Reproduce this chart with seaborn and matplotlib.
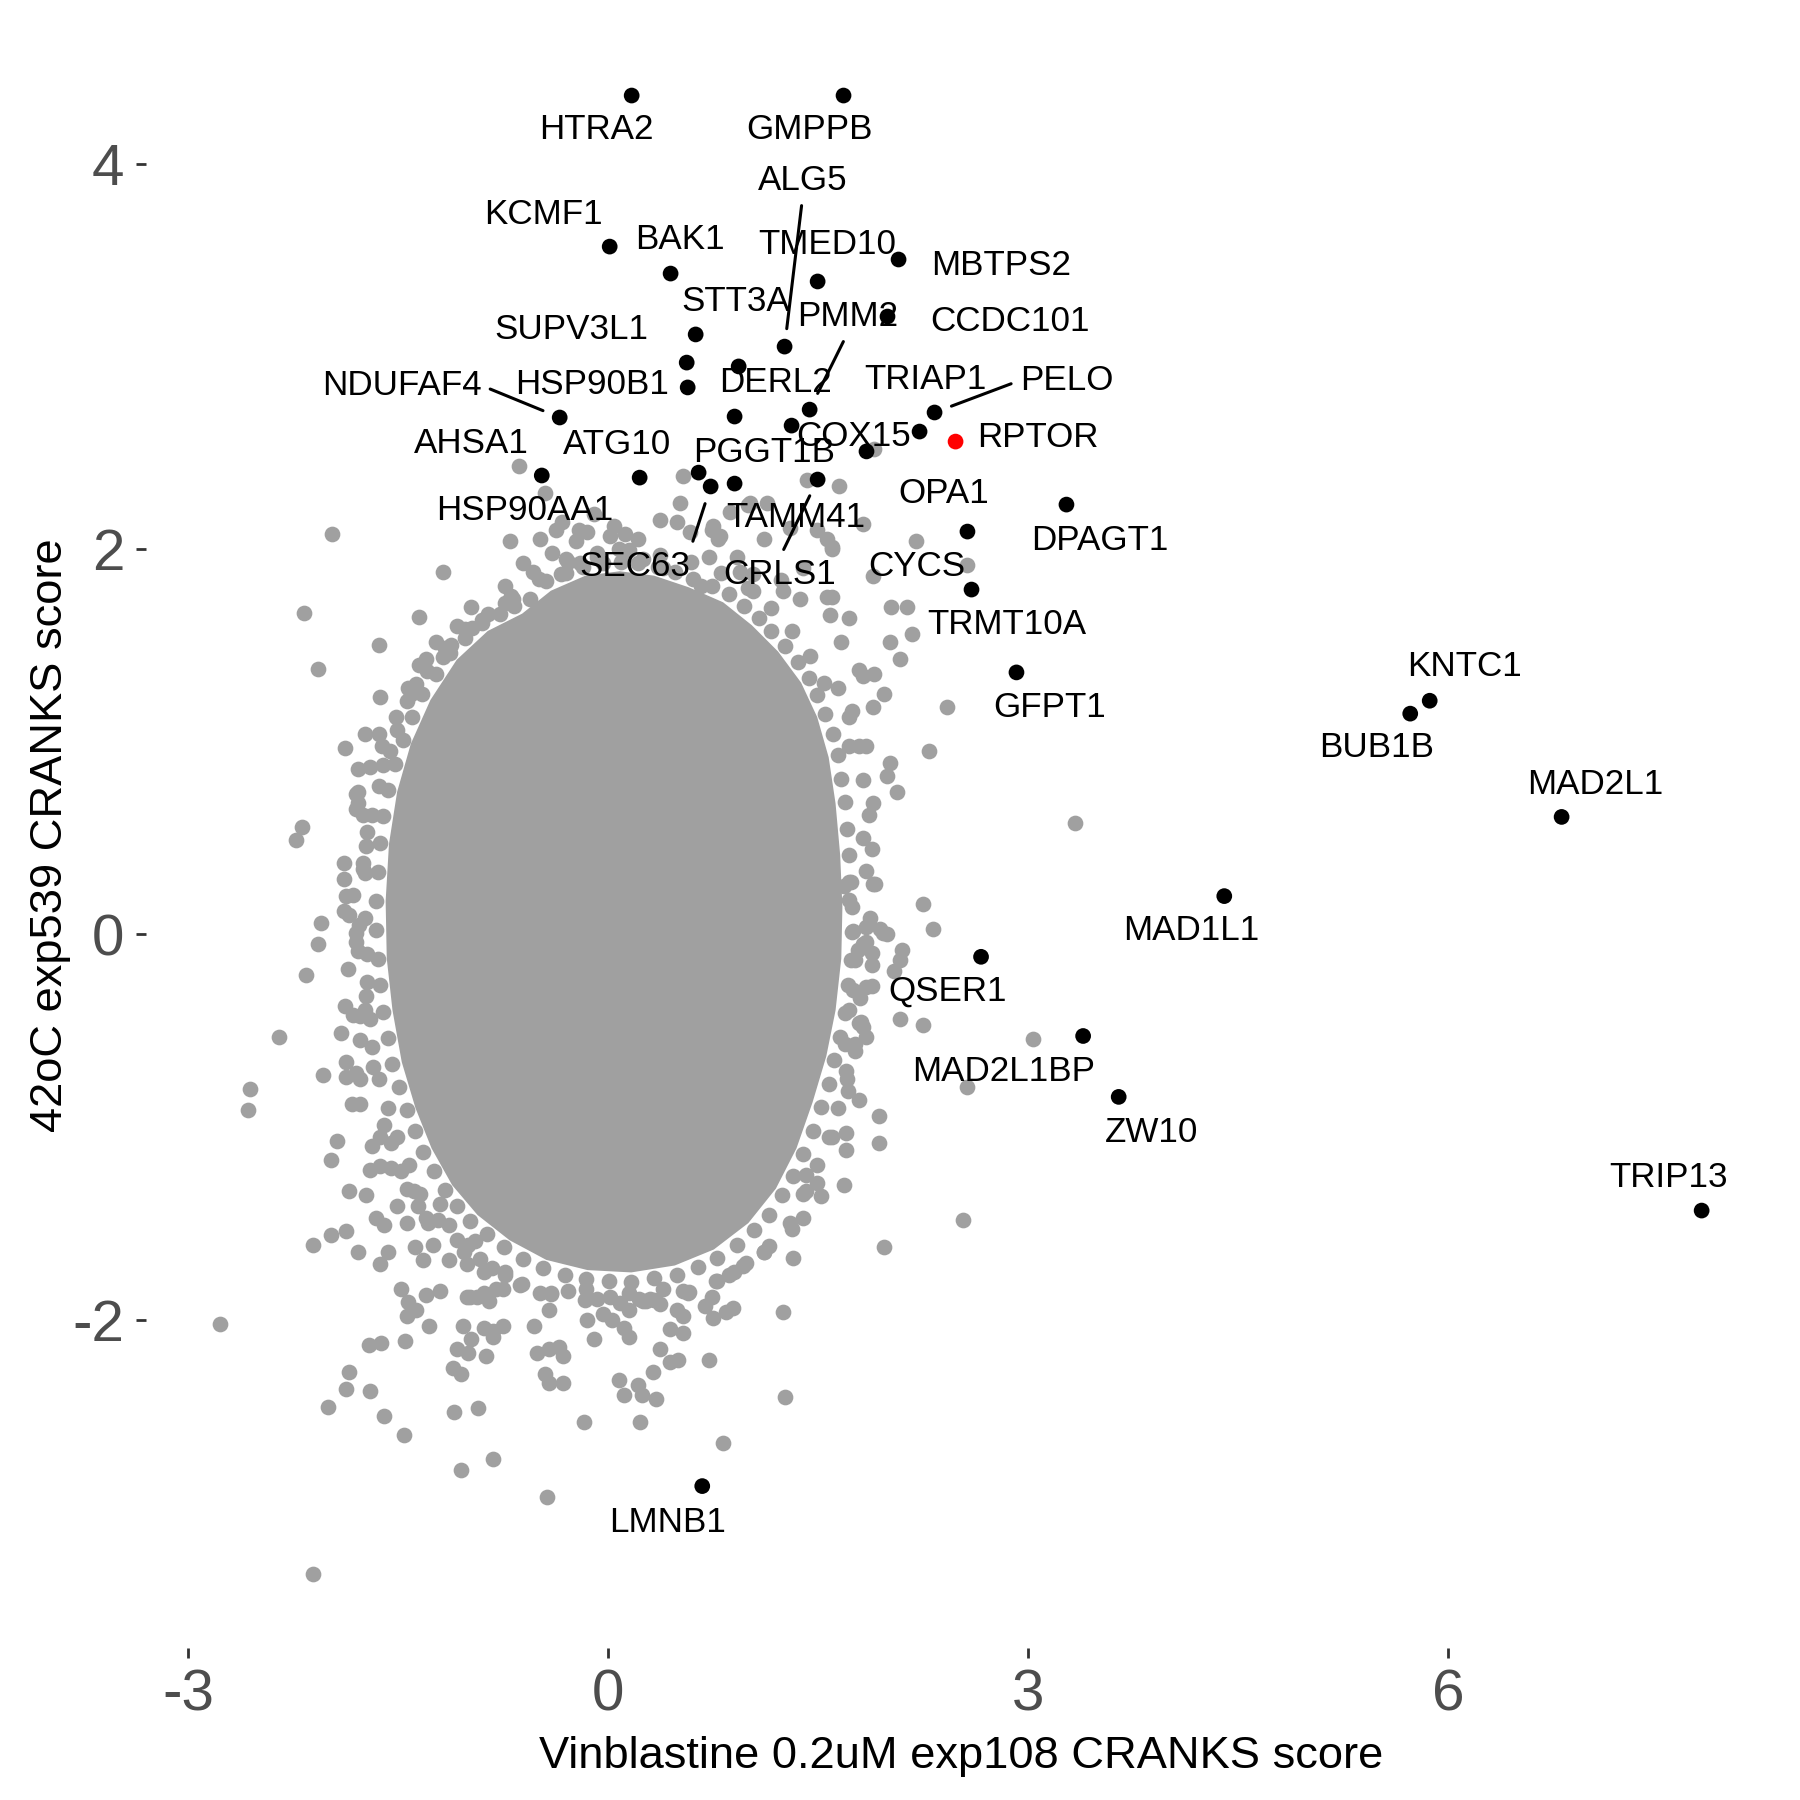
import matplotlib
matplotlib.use("Agg")
import matplotlib.pyplot as plt
import seaborn as sns
import pandas as pd

# ---------------------------------------------------------------- data
# labelled hits (CRANKS scores)
genes = ["HTRA2", "GMPPB", "KCMF1", "BAK1", "TMED10", "MBTPS2", "CCDC101",
         "STT3A", "ALG5", "SUPV3L1", "DERL2", "HSP90B1", "NDUFAF4", "PMM2",
         "HSP90AA1", "CYCS", "PELO", "TRIAP1", "COX15", "AHSA1", "ATG10",
         "PGGT1B", "SEC63", "TAMM41", "CRLS1", "RPTOR", "OPA1", "DPAGT1",
         "TRMT10A", "GFPT1", "KNTC1", "BUB1B", "MAD2L1", "MAD1L1", "QSER1",
         "MAD2L1BP", "ZW10", "TRIP13", "LMNB1"]
gene_x = [0.167, 1.680, 0.010, 0.445, 1.495, 2.073, 1.994,
          0.624, 1.259, 0.560, 0.931, 0.567, -0.347, 1.438,
          0.902, 1.309, 2.330, 2.223, 1.844, -0.475, 0.224,
          0.645, 0.731, 0.902, 1.495, 2.480, 2.565, 3.272,
          2.594, 2.915, 5.866, 5.727, 6.808, 4.399, 2.662,
          3.391, 3.645, 7.808, 0.671]
gene_y = [4.354, 4.354, 3.570, 3.430, 3.389, 3.503, 3.207,
          3.114, 3.051, 2.968, 2.948, 2.839, 2.683, 2.724,
          2.688, 2.641, 2.709, 2.610, 2.507, 2.382, 2.371,
          2.397, 2.325, 2.340, 2.361, 2.558, 2.091, 2.231,
          1.790, 1.360, 1.213, 1.146, 0.610, 0.199, -0.116,
          -0.527, -0.843, -1.433, -2.863]
highlight = ["RPTOR"]

# all other genes: outline of the solid centre of the cloud ...
core_x = [-0.615, -0.410, -0.164, 0.082, 0.328, 0.574, 0.820, 1.025, 1.213, 1.377,
          1.492, 1.574, 1.623, 1.656, 1.672, 1.664, 1.623, 1.557, 1.459, 1.344,
          1.197, 1.000, 0.754, 0.475, 0.164, -0.148, -0.443, -0.705, -0.934, -1.115,
          -1.262, -1.377, -1.475, -1.541, -1.582, -1.590, -1.566, -1.508, -1.410, -1.270,
          -1.082, -0.861]
core_y = [1.665, 1.784, 1.862, 1.885, 1.862, 1.802, 1.724, 1.605, 1.468, 1.307,
          1.128, 0.919, 0.680, 0.412, 0.143, -0.125, -0.394, -0.632, -0.871, -1.110,
          -1.319, -1.498, -1.635, -1.718, -1.754, -1.742, -1.689, -1.587, -1.456, -1.301,
          -1.110, -0.901, -0.662, -0.394, -0.125, 0.173, 0.471, 0.740, 0.990, 1.217,
          1.426, 1.575]

# ... genes crowding the edge of that centre ...
edge_genes = [(-0.672, 1.706), (-0.443, 1.832), (-0.180, 1.909), (0.090, 1.933), (0.352, 1.909),
              (0.607, 1.844), (0.861, 1.766), (1.074, 1.641), (1.262, 1.498), (1.434, 1.331),
              (1.549, 1.146), (1.639, 0.931), (1.689, 0.686), (1.721, 0.412), (1.738, 0.143),
              (1.730, -0.131), (1.689, -0.406), (1.615, -0.650), (1.516, -0.895), (1.393, -1.140),
              (1.238, -1.354), (1.041, -1.533), (0.779, -1.677), (0.492, -1.766), (0.164, -1.802),
              (-0.156, -1.790), (-0.467, -1.730), (-0.746, -1.623), (-0.984, -1.486), (-1.164, -1.325),
              (-1.320, -1.128), (-1.434, -0.913), (-1.541, -0.674), (-1.607, -0.400), (-1.648, -0.125),
              (-1.656, 0.173), (-1.631, 0.477), (-1.574, 0.752), (-1.467, 1.008), (-1.328, 1.247),
              (-1.131, 1.462), (-0.902, 1.617),
              (-0.557, 1.742), (-0.303, 1.874), (-0.041, 1.927), (0.213, 1.927), (0.475, 1.879),
              (0.738, 1.808), (0.967, 1.706), (1.164, 1.575), (1.352, 1.414), (1.492, 1.241),
              (1.607, 1.038), (1.664, 0.806), (1.705, 0.549), (1.730, 0.274), (1.738, 0.012),
              (1.713, -0.263), (1.656, -0.531), (1.574, -0.776), (1.459, -1.020), (1.320, -1.253),
              (1.148, -1.456), (0.918, -1.611), (0.639, -1.724), (0.328, -1.784), (0.008, -1.796),
              (-0.311, -1.766), (-0.607, -1.683), (-0.869, -1.557), (-1.082, -1.408), (-1.246, -1.229),
              (-1.377, -1.020), (-1.492, -0.794), (-1.574, -0.537), (-1.631, -0.263), (-1.656, 0.024),
              (-1.648, 0.322), (-1.607, 0.615), (-1.525, 0.883), (-1.402, 1.128), (-1.230, 1.354),
              (-1.025, 1.539), (-0.770, 1.665)]
outer_edge_genes = [(-1.738, 1.038), (-1.705, 0.871), (-1.787, 0.680), (-1.721, 0.531), (-1.754, 0.370),
                    (-1.820, 0.203), (-1.738, 0.084), (-1.787, -0.084), (-1.721, -0.245), (-1.770, -0.424),
                    (-1.689, -0.585), (-1.639, -0.752), (-1.574, -0.901), (-1.508, -1.050), (-1.426, -1.199),
                    (-1.344, -1.348), (-1.213, -1.480), (-1.082, -1.587), (-0.918, -1.683), (-0.738, -1.766),
                    (1.639, 1.277), (1.721, 1.128), (1.787, 0.979), (1.820, 0.800), (1.861, 0.621),
                    (1.885, 0.442), (1.902, 0.263), (1.869, 0.084), (1.885, -0.095), (1.844, -0.274),
                    (1.803, -0.453), (1.762, -0.603), (1.705, -0.752), (1.639, -0.901), (1.574, -1.050),
                    (1.492, -1.199), (1.393, -1.348), (1.295, -1.498), (1.148, -1.617), (0.984, -1.706),
                    (0.779, -1.796), (0.574, -1.856), (0.328, -1.897), (0.082, -1.915), (-0.164, -1.897),
                    (-0.410, -1.868), (-0.615, -1.814), (-0.861, 1.665), (-0.697, 1.754), (-0.492, 1.844),
                    (-0.287, 1.933), (-0.082, 1.981), (0.148, 1.993), (0.369, 1.969), (0.590, 1.933),
                    (0.803, 1.874), (1.000, 1.796), (1.164, 1.695), (1.311, 1.575), (1.443, 1.444),
                    (1.541, 1.307), (-1.025, 1.587), (-1.164, 1.486), (-1.295, 1.366), (-1.410, 1.247),
                    (-1.516, 1.128), (-1.615, 0.979)]

# ... and the scattered genes further out
top_genes = [(-0.64, 2.43), (-0.45, 2.29), (-1.97, 2.08), (-0.70, 2.04), (-1.18, 1.88),
             (-1.35, 1.65), (-2.17, 1.67), (-0.97, 1.59), (-0.37, 2.10), (-0.23, 2.04),
             (-0.15, 2.09), (0.01, 2.07), (0.12, 2.08), (0.37, 2.15), (0.51, 2.24),
             (0.53, 2.38), (0.58, 2.09), (0.75, 2.12), (0.78, 2.05), (-0.61, 1.93),
             (-0.54, 1.88), (-0.40, 1.98), (-0.30, 1.95), (-0.68, 1.74), (1.42, 2.36),
             (1.65, 2.33), (1.90, 2.52), (1.82, 2.13), (1.56, 2.05), (1.60, 2.00),
             (2.20, 2.04), (2.56, 1.92), (1.89, 1.86), (1.56, 1.75), (1.58, 1.66),
             (2.02, 1.70), (2.13, 1.70), (2.17, 1.56), (1.01, 2.24), (1.13, 2.24),
             (0.87, 2.19), (0.80, 2.07), (0.72, 1.96), (0.92, 1.96), (0.94, 1.88),
             (1.03, 1.78), (1.25, 1.78), (1.37, 1.74), (-0.90, 1.63), (-0.74, 1.72),
             (-0.34, 1.87), (-0.20, 1.93), (-0.08, 1.96), (0.08, 2.00), (0.25, 1.95),
             (0.39, 1.90), (0.66, 1.81), (-0.49, 2.05), (-0.33, 2.14), (-0.21, 2.10),
             (-0.10, 2.18), (0.04, 2.12), (0.21, 2.05), (0.49, 2.14), (0.74, 2.10),
             (1.00, 2.23), (1.11, 2.05), (1.30, 2.11), (1.49, 2.10), (1.60, 2.01),
             (1.39, 1.90), (1.23, 1.84), (1.03, 1.87), (1.60, 1.75), (1.72, 1.64),
             (1.66, 1.52), (1.79, 1.37), (-0.74, 1.81), (-0.98, 1.70)]
right_genes = [(2.01, 1.52), (2.08, 1.43), (1.97, 1.25), (1.89, 1.18), (2.42, 1.18),
               (2.29, 0.95), (2.01, 0.89), (1.99, 0.82), (2.06, 0.74), (1.82, 1.34),
               (1.90, 1.35), (1.72, 0.98), (3.33, 0.58), (2.25, 0.16), (2.32, 0.03),
               (1.84, 0.33), (2.10, -0.08), (2.08, -0.13), (2.04, -0.19), (1.88, -0.27),
               (2.08, -0.44), (2.25, -0.47), (3.03, -0.54), (2.56, -0.79), (1.93, -0.94),
               (1.93, -1.08), (1.79, -0.86), (1.70, -0.71), (1.69, -0.57), (1.70, -1.03),
               (1.68, -1.30), (1.52, -1.36), (1.41, -1.33), (2.53, -1.48), (1.97, -1.62),
               (1.84, -0.53), (1.82, -0.48), (1.72, -0.39), (1.75, -0.29), (1.76, -0.13),
               (1.96, 0.01), (1.94, 0.03), (1.99, 0.00), (1.84, 0.04), (1.82, -0.05),
               (1.78, -0.08), (1.88, -0.16), (1.72, 0.18), (1.68, 0.25), (1.72, 0.27),
               (1.75, 0.02), (1.79, -0.46), (1.70, -1.12), (1.41, -1.25), (1.74, 1.16),
               (1.84, 0.98), (1.89, 0.68), (1.82, 0.50), (1.89, 0.26), (1.84, -0.04),
               (1.80, -0.33), (1.76, -0.57), (1.71, -0.81), (1.60, -1.05), (1.49, -1.29),
               (1.39, -1.47), (1.31, -1.53), (1.11, -1.65)]
left_genes = [(-1.64, 1.50), (-2.07, 1.38), (-1.63, 1.23), (-1.44, 1.21), (-1.88, 0.97),
              (-1.79, 0.86), (-1.80, 0.73), (-1.64, 0.77), (-2.19, 0.56), (-2.23, 0.49),
              (-2.05, 0.06), (-2.07, -0.05), (-2.16, -0.21), (-2.35, -0.53), (-2.56, -0.80),
              (-2.04, -0.73), (-1.88, -0.37), (-1.87, 0.20), (-1.89, 0.12), (-1.89, 0.29),
              (-1.86, -0.18), (-1.78, 0.05), (-1.72, -0.10), (-1.89, 0.37), (-1.75, 0.34),
              (-1.85, 0.10), (-1.80, 0.01), (-1.91, -0.51), (-1.82, -0.42), (-1.70, -0.44),
              (-1.87, -0.66), (-1.80, -0.72), (-1.73, -0.32), (-1.80, 0.65), (-1.73, 0.46),
              (-1.61, 0.88), (-1.75, 0.62), (-1.69, 0.62), (-1.56, 0.95), (-1.51, 1.06),
              (-1.37, 1.30), (-1.30, 1.43), (-1.35, 1.40), (-1.18, 1.44), (-1.12, 1.50),
              (-1.08, 1.60), (-2.57, -0.91), (-1.83, -0.88), (-1.77, -0.88), (-1.87, -0.74),
              (-1.77, -0.75), (-1.77, -0.55), (-1.79, 0.74), (-1.74, 0.32), (-1.80, -0.04),
              (-1.74, -0.39), (-1.68, -0.69), (-1.60, -0.99), (-1.48, -1.23), (-1.64, 1.04),
              (-1.43, 1.28), (-1.23, 1.52)]
lower_left_genes = [(-2.77, -2.02), (-2.11, -3.32), (-2.11, -1.61), (-1.98, -1.56), (-1.87, -1.54),
                    (-1.79, -1.65), (-1.85, -2.27), (-1.87, -2.36), (-2.00, -2.45), (-1.70, -2.37),
                    (-1.60, -2.50), (-1.46, -2.60), (-1.45, -2.11), (-1.28, -2.03), (-1.05, -2.78),
                    (-0.82, -2.72), (-1.10, -2.48), (-0.93, -2.46), (-1.71, -2.13), (-1.62, -2.12),
                    (-1.48, -1.84), (-1.43, -1.91), (-1.37, -1.95), (-1.44, -1.98), (-1.30, -1.87),
                    (-1.20, -1.85), (-1.11, -2.25), (-1.05, -2.28), (-1.08, -2.15), (-1.00, -2.17),
                    (-0.87, -2.19), (-1.04, -2.03), (-0.98, -2.10), (-0.89, -2.04), (-0.82, -2.06),
                    (-1.85, -1.33), (-1.73, -1.35), (-1.94, -1.07), (-1.98, -1.17), (-1.66, -1.47),
                    (-1.60, -1.51), (-1.63, -1.71), (-1.57, -1.65), (-1.38, -1.62), (-1.32, -1.69),
                    (-1.25, -1.61), (-1.14, -1.69), (-1.14, -1.51), (-1.29, -1.50), (-1.44, -1.50),
                    (-1.51, -1.41), (-1.36, -1.41), (-1.44, -1.32), (-1.39, -1.33), (-1.70, -1.22),
                    (-1.63, -1.20), (-1.55, -1.21), (-1.69, -1.10), (-1.63, -1.05), (-1.55, -1.08),
                    (-1.20, -1.40), (-0.95, -1.59), (-1.00, -1.61), (-1.01, -1.71), (-0.89, -1.75),
                    (-0.83, -1.73), (-1.01, -1.88), (-0.94, -1.88), (-0.85, -1.90), (-0.80, -1.84),
                    (-1.30, -1.47), (-1.03, -1.65), (-0.74, -1.75)]
bottom_genes = [(1.32, -1.68), (1.25, -1.96), (1.26, -2.40), (0.82, -2.64), (-0.44, -2.92),
                (0.23, -2.53), (-0.17, -2.53), (0.72, -2.21), (0.34, -2.41), (0.11, -2.39),
                (0.08, -2.31), (0.21, -2.34), (0.24, -2.39), (0.32, -2.27), (0.37, -2.15),
                (0.44, -2.22), (0.50, -2.21), (-0.32, -2.33), (-0.42, -2.33), (-0.45, -2.28),
                (-0.51, -2.17), (-0.42, -2.15), (-0.35, -2.14), (-0.32, -2.19), (-0.53, -2.03),
                (-0.75, -2.03), (-0.82, -2.09), (-0.10, -2.10), (-0.15, -2.00), (-0.04, -1.97),
                (0.03, -2.00), (0.11, -2.04), (0.15, -2.09), (0.15, -1.95), (0.22, -1.89),
                (0.30, -1.89), (0.39, -1.84), (0.37, -1.92), (0.44, -2.05), (0.53, -2.07),
                (0.53, -1.98), (0.49, -1.95), (0.53, -1.85), (0.69, -1.93), (0.75, -1.99),
                (0.84, -1.96), (0.89, -1.94), (0.74, -1.88), (0.90, -1.75), (0.96, -1.72),
                (0.77, -1.80), (-0.16, -1.84), (-0.29, -1.85), (0.01, -1.88), (0.15, -1.86),
                (0.27, -1.90), (-0.75, -1.84), (-0.63, -1.82), (-0.89, -1.86), (-0.99, -1.88),
                (-0.49, -1.86), (-0.42, -1.95), (-0.41, -1.86), (-0.08, -1.89), (0.25, -1.90),
                (0.57, -1.86), (0.86, -1.77), (1.11, -1.65)]

# ---------------------------------------------------------------- layout
# text centre of each label (ggrepel-style placement), in data units
label_xy = {
    "HTRA2": (-0.083, 4.178), "GMPPB": (1.437, 4.178), "KCMF1": (-0.460, 3.736),
    "BAK1": (0.510, 3.607), "ALG5": (1.388, 3.914), "TMED10": (1.566, 3.581),
    "MBTPS2": (2.808, 3.472), "STT3A": (0.909, 3.285), "PMM2": (1.709, 3.207),
    "SUPV3L1": (-0.261, 3.140), "CCDC101": (2.872, 3.181), "NDUFAF4": (-1.475, 2.849),
    "HSP90B1": (-0.118, 2.854), "DERL2": (1.195, 2.865), "TRIAP1": (2.266, 2.880),
    "PELO": (3.272, 2.875), "COX15": (1.752, 2.584), "RPTOR": (3.066, 2.579),
    "AHSA1": (-0.975, 2.548), "ATG10": (0.061, 2.543), "PGGT1B": (1.110, 2.501),
    "HSP90AA1": (-0.597, 2.200), "TAMM41": (1.337, 2.164), "OPA1": (2.394, 2.289),
    "DPAGT1": (3.508, 2.045), "SEC63": (0.188, 1.910), "CRLS1": (1.223, 1.868),
    "CYCS": (2.201, 1.910), "TRMT10A": (2.844, 1.609), "GFPT1": (3.151, 1.178),
    "KNTC1": (6.111, 1.391), "BUB1B": (5.489, 0.968), "MAD2L1": (7.046, 0.777),
    "MAD1L1": (4.161, 0.021), "QSER1": (2.424, -0.295), "MAD2L1BP": (2.826, -0.712),
    "ZW10": (3.883, -1.028), "TRIP13": (7.570, -1.260), "LMNB1": (0.424, -3.053),
}
# labels joined to their point by a segment, and where the segment leaves the text
segment_from = {"ALG5": (0.5, 0), "PMM2": (0.5, 0), "PELO": (0, 0.5),
                "NDUFAF4": (1, 0.5), "SEC63": (1, 1), "CRLS1": (0.5, 1)}

GREY = "#A0A0A0"
POINT_SIZE = 32

# ---------------------------------------------------------------- plot
sns.set_style("white")
plt.rcParams["font.family"] = ["Liberation Sans", "DejaVu Sans"]
plt.rcParams["axes.unicode_minus"] = False

bg = pd.DataFrame(edge_genes + outer_edge_genes + top_genes + right_genes + left_genes
                  + lower_left_genes + bottom_genes, columns=["x", "y"])
hits = pd.DataFrame({"gene": genes, "x": gene_x, "y": gene_y})
hits["col"] = hits["gene"].isin(highlight).map({True: "hl", False: "hit"})

fig = plt.figure(figsize=(9, 9), dpi=200)
ax = fig.add_axes([0.0813, 0.0844, 0.9052, 0.9036])

ax.fill(core_x, core_y, color=GREY, lw=0, zorder=1)
sns.scatterplot(data=bg, x="x", y="y", color=GREY, s=POINT_SIZE, linewidth=0,
                ax=ax, zorder=2)
sns.scatterplot(data=hits, x="x", y="y", hue="col", palette={"hit": "black", "hl": "red"},
                s=POINT_SIZE, linewidth=0, legend=False, ax=ax, zorder=3)

for g, x, y in zip(genes, gene_x, gene_y):
    lx, ly = label_xy[g]
    if g in segment_from:
        ax.annotate(g, xy=(x, y), xytext=(lx, ly), ha="center", va="center",
                    fontsize=12.6, color="black", zorder=4,
                    arrowprops=dict(arrowstyle="-", color="black", lw=1.1,
                                    relpos=segment_from[g], shrinkA=1, shrinkB=6.5))
    else:
        ax.text(lx, ly, g, ha="center", va="center", fontsize=12.6,
                color="black", zorder=4)

# ggplot-like 5% expansion of the data range
all_x = list(bg["x"]) + gene_x
all_y = list(bg["y"]) + gene_y
dx = (max(all_x) - min(all_x)) * 0.05
dy = (max(all_y) - min(all_y)) * 0.05
ax.set_xlim(min(all_x) - dx, max(all_x) + dx)
ax.set_ylim(min(all_y) - dy, max(all_y) + dy)

ax.set_xticks([-3, 0, 3, 6])
ax.set_yticks([-2, 0, 2, 4])
ax.tick_params(axis="both", bottom=True, left=True, length=3.6, width=1.0,
               color="#333333", labelsize=21, labelcolor="#4D4D4D")
ax.tick_params(axis="x", pad=3.6)
ax.tick_params(axis="y", pad=4.3)
for s in ax.spines.values():
    s.set_visible(False)
ax.grid(False)

ax.set_xlabel("Vinblastine 0.2uM exp108 CRANKS score", fontsize=16.3,
              color="black", labelpad=5)
ax.set_ylabel("42oC exp539 CRANKS score", fontsize=16.3, color="black",
              labelpad=0.5)

fig.savefig("out.png", dpi=200)
